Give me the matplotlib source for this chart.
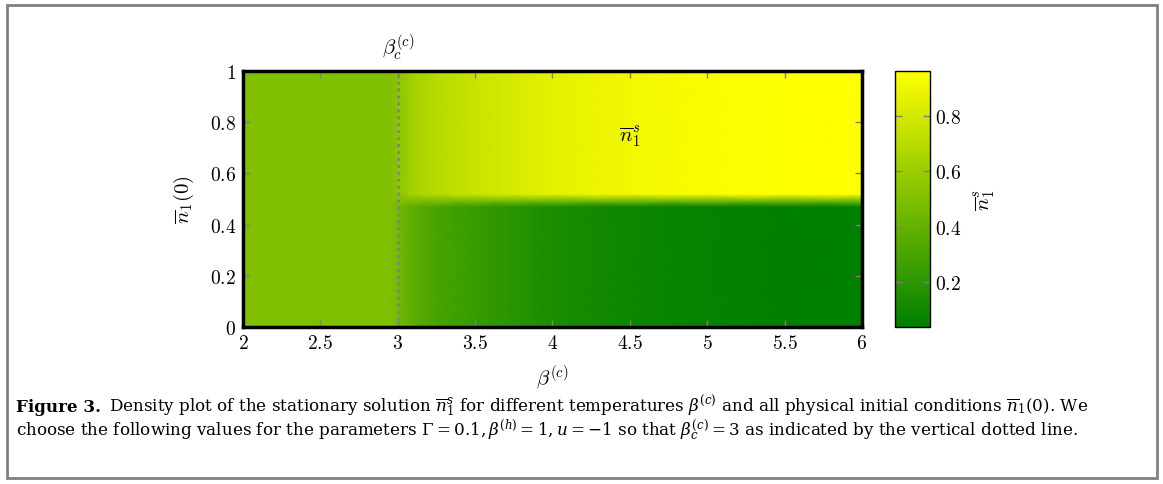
import numpy as np
import matplotlib.pyplot as plt
from matplotlib.colors import LinearSegmentedColormap
from matplotlib.patches import Rectangle

plt.rcParams['mathtext.fontset'] = 'cm'
plt.rcParams['font.family'] = ['DejaVu Serif']

# stationary solution
beta_c = [2.0, 2.5, 2.95, 3.0, 3.1, 3.25, 3.5, 3.75, 4.0, 4.5, 5.0, 5.5, 6.0]
upper = [0.50, 0.50, 0.50, 0.54, 0.63, 0.70, 0.76, 0.81, 0.86, 0.91, 0.94, 0.955, 0.96]
lower = [0.50, 0.50, 0.50, 0.46, 0.37, 0.30, 0.24, 0.19, 0.14, 0.09, 0.06, 0.045, 0.04]
n0_rows = [0.0, 0.47, 0.52, 1.0]
beta_crit = 3.0

xticks = [2, 2.5, 3, 3.5, 4, 4.5, 5, 5.5, 6]
yticks = [0, 0.2, 0.4, 0.6, 0.8, 1]
cticks = [0.2, 0.4, 0.6, 0.8]

Z = np.array([lower, lower, upper, upper])

cmap = LinearSegmentedColormap.from_list('greenyellow', [(0, 128/255, 0), (1, 1, 0)])

fig = plt.figure(figsize=(11.63, 4.85), dpi=100)
ax = fig.add_axes([0.2089, 0.3237, 0.5322, 0.5278])
cax = fig.add_axes([0.7696, 0.3237, 0.0301, 0.5278])

mesh = ax.pcolormesh(beta_c, n0_rows, Z, shading='gouraud', cmap=cmap,
                     vmin=0.04, vmax=0.96, rasterized=True)
ax.axvline(beta_crit, color='#808080', ls=(0, (1, 1.5)), lw=2)
ax.set_xlim(2, 6)
ax.set_ylim(0, 1)

ax.set_xticks(xticks)
ax.set_xticklabels(['$%g$' % t for t in xticks])
ax.set_yticks(yticks)
ax.set_yticklabels(['$%g$' % t for t in yticks])
ax.tick_params(direction='in', top=True, right=True, length=5, width=1,
               color='#808080', labelsize=14, pad=5)
for s in ax.spines.values():
    s.set_linewidth(2.5)

ax.set_xlabel(r'$\beta^{(c)}$', fontsize=15, labelpad=8)
ax.set_ylabel(r'$\overline{n}_1(0)$', fontsize=15, labelpad=10)
ax.text(beta_crit, 1.035, r'$\beta_c^{(c)}$', ha='center', va='bottom', fontsize=15)
ax.text(4.5, 0.75, r'$\overline{n}_1^s$', ha='center', va='center', fontsize=15)

cb = fig.colorbar(mesh, cax=cax)
cb.set_ticks(cticks)
cb.set_ticklabels(['$%g$' % t for t in cticks])
cax.tick_params(direction='in', left=True, right=True, length=5, width=1,
                color='#808080', labelsize=14)
cb.outline.set_linewidth(1)
cb.set_label(r'$\overline{n}_1^s$', fontsize=15, labelpad=8)

# figure frame and caption
fig.patches.append(Rectangle((7/1163, 6/485), 1150/1163, 473/485, transform=fig.transFigure,
                             fill=False, ec='#808080', lw=2))
cap = dict(family='DejaVu Serif', va='baseline', math_fontfamily='dejavuserif')
y1 = 1 - 412/485
y2 = 1 - 436/485
r = fig.canvas.get_renderer()

fs = 12
head = fig.text(16/1163, y1, 'Figure 3.', fontweight='bold', fontsize=fs, **cap)
line1 = fig.text(70/1163, y1,
                 r'Density plot of the stationary solution $\overline{n}_1^s$ for different temperatures '
                 r'$\beta^{(c)}$ and all physical initial conditions $\overline{n}_1(0)$. We',
                 fontsize=fs, **cap)
# fit first caption line so that it ends where the reference's does
w = head.get_window_extent(r).width + 8 + line1.get_window_extent(r).width
fs = fs * (1090 - 16) / w
head.set_fontsize(fs)
line1.set_fontsize(fs)
hx = head.get_window_extent(r).x1 + 8
line1.set_x(hx/1163)
fig.text(16/1163, y2,
         r'choose the following values for the parameters $\Gamma = 0.1, \beta^{(h)} = 1, u = -1$ '
         r'so that $\beta_c^{(c)} = 3$ as indicated by the vertical dotted line.',
         fontsize=fs, **cap)

fig.savefig('out.png', dpi=100)
